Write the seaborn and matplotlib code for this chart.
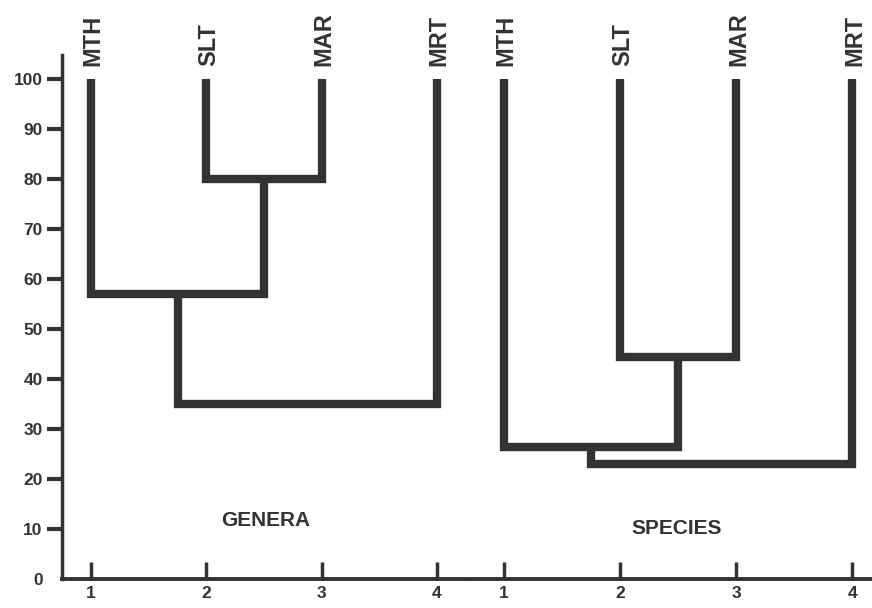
import matplotlib
matplotlib.use('Agg')
import matplotlib.pyplot as plt
import seaborn as sns
import pandas as pd

# leaves of both dendrograms
leaves = ['MTH', 'SLT', 'MAR', 'MRT']
leaf_pos = [1, 2, 3, 4]
# fusion levels: SLT+MAR, then +MTH, then +MRT
genera_levels = [80, 57, 35]
species_levels = [44.5, 26.5, 23]
y_ticks = [0, 10, 20, 30, 40, 50, 60, 70, 80, 90, 100]
x_labels = ['1', '2', '3', '4']

sns.set_theme(style='ticks')
plt.rcParams['font.family'] = ['Liberation Sans', 'DejaVu Sans']
plt.rcParams['font.weight'] = 'bold'

col = '#333333'
W, H = 872, 608
fig = plt.figure(figsize=(W / 100, H / 100), dpi=100)
ax1 = fig.add_axes([62 / W, 29 / H, (470 - 62) / W, 524 / H])
ax2 = fig.add_axes([470 / W, 29 / H, (W - 470) / W, 524 / H])


def draw_tree(ax, levels):
    h1, h2, h3 = levels
    top = 100
    c1 = (leaf_pos[1] + leaf_pos[2]) / 2
    c2 = (leaf_pos[0] + c1) / 2
    segs = [
        ([leaf_pos[1], leaf_pos[1], leaf_pos[2], leaf_pos[2]], [top, h1, h1, top]),
        ([leaf_pos[0], leaf_pos[0], c1, c1], [top, h2, h2, h1]),
        ([c2, c2, leaf_pos[3], leaf_pos[3]], [h2, h3, h3, top]),
    ]
    for xs, ys in segs:
        df = pd.DataFrame({'x': xs, 'y': ys})
        sns.lineplot(data=df, x='x', y='y', sort=False, estimator=None, ax=ax,
                     color=col, lw=6, solid_joinstyle='miter', solid_capstyle='butt')
    for p, name in zip(leaf_pos, leaves):
        ax.text(p + 0.02, 102.5, name, rotation=90, ha='center', va='bottom',
                fontsize=17, fontweight='bold', color=col)
    ax.set_xlabel('')
    ax.set_ylabel('')


draw_tree(ax1, genera_levels)
draw_tree(ax2, species_levels)

ax1.set_xlim(0.748, 4.286)
ax2.set_xlim(0.707, 4.17)
for ax in (ax1, ax2):
    ax.set_ylim(0, 104.8)
    ax.set_xticks(leaf_pos)
    ax.set_xticklabels(x_labels, fontsize=12.5, fontweight='bold', color=col)
    ax.tick_params(axis='x', direction='in', length=12, width=2.5, color=col, pad=5)
    ax.spines['top'].set_visible(False)
    ax.spines['right'].set_visible(False)
    ax.spines['bottom'].set_linewidth(2.8)
    ax.spines['bottom'].set_color(col)
    ax.set_facecolor('white')

ax1.set_yticks(y_ticks)
ax1.set_yticklabels([str(v) for v in y_ticks], fontsize=12.5, fontweight='bold', color=col)
ax1.tick_params(axis='y', direction='out', length=11, width=3, color=col, pad=3)
ax1.yaxis.get_major_ticks()[0].tick1line.set_visible(False)
ax1.spines['left'].set_linewidth(2.5)
ax1.spines['left'].set_color(col)

ax2.spines['left'].set_visible(False)
ax2.set_yticks([])

ax1.text(2.51, 11.6, 'GENERA', ha='center', va='center', fontsize=15,
         fontweight='bold', color=col)
ax2.text(2.49, 10.2, 'SPECIES', ha='center', va='center', fontsize=15,
         fontweight='bold', color=col)

fig.savefig('out.png', dpi=100, facecolor='white')
